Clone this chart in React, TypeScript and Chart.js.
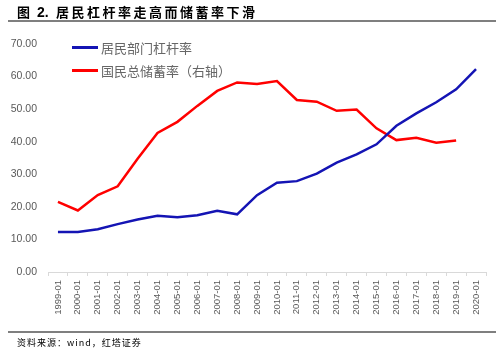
import React, { useEffect, useRef } from "react";
import { Chart, registerables } from "chart.js";

Chart.register(...registerables);

const categories = [
  "1999-01", "2000-01", "2001-01", "2002-01", "2003-01", "2004-01", "2005-01", "2006-01",
  "2007-01", "2008-01", "2009-01", "2010-01", "2011-01", "2012-01", "2013-01", "2014-01",
  "2015-01", "2016-01", "2017-01", "2018-01", "2019-01", "2020-01",
];

const householdLeverage = [
  12.3, 12.3, 13.1, 14.7, 16.1, 17.3, 16.8, 17.4, 18.8, 17.7, 23.6, 27.4,
  27.9, 30.2, 33.6, 36.1, 39.2, 44.9, 48.7, 52.1, 56.1, 62.3,
];

const nationalSavings: (number | null)[] = [
  21.5, 18.9, 23.6, 26.3, 34.8, 42.7, 46.1, 51.0, 55.6, 58.2, 57.7, 58.6,
  52.8, 52.3, 49.5, 49.9, 44.1, 40.5, 41.2, 39.7, 40.4, null,
];

const seriesNames = ["居民部门杠杆率", "国民总储蓄率（右轴）"];
const seriesColors = ["#1414B4", "#FF0000"];
const titleLabel = "图";
const titleNumber = "2.";
const titleText = "居民杠杆率走高而储蓄率下滑";
const sourceText = "资料来源：wind，红塔证券";

export default function App() {
  const canvasRef = useRef<HTMLCanvasElement | null>(null);

  useEffect(() => {
    const canvas = canvasRef.current;
    if (!canvas) return;
    const chart = new Chart(canvas, {
      type: "line",
      data: {
        labels: categories,
        datasets: [
          {
            label: seriesNames[0],
            data: householdLeverage,
            borderColor: seriesColors[0],
            backgroundColor: seriesColors[0],
            borderWidth: 2.5,
            pointRadius: 0,
            tension: 0,
            yAxisID: "y",
          },
          {
            label: seriesNames[1],
            data: nationalSavings,
            borderColor: seriesColors[1],
            backgroundColor: seriesColors[1],
            borderWidth: 2.5,
            pointRadius: 0,
            tension: 0,
            yAxisID: "y2",
          },
        ],
      },
      options: {
        animation: false,
        responsive: false,
        maintainAspectRatio: false,
        layout: { padding: { top: 44, left: 8, right: 14, bottom: 19 } },
        plugins: {
          legend: { display: false },
          tooltip: { enabled: false },
        },
        scales: {
          x: {
            offset: true,
            grid: {
              display: true,
              drawOnChartArea: false,
              drawTicks: true,
              tickLength: 4,
              color: "#d9d9d9",
              offset: true,
            },
            border: { display: true, color: "#d9d9d9" },
            ticks: {
              minRotation: 90,
              maxRotation: 90,
              autoSkip: false,
              color: "#595959",
              padding: 4,
              font: { family: "Liberation Sans", size: 9.5 },
            },
            afterFit: (s: any) => {
              s.height = 60;
            },
          },
          y: {
            min: 0,
            max: 70,
            grid: { display: false, drawTicks: false },
            border: { display: false },
            ticks: {
              stepSize: 10,
              color: "#595959",
              padding: 11,
              font: { family: "Liberation Sans", size: 10.5 },
              callback: (v: any) => Number(v).toFixed(2),
            },
            afterFit: (s: any) => {
              s.width = 40;
            },
          },
          y2: {
            display: false,
            min: 0,
            max: 70,
          },
        },
      },
    });
    return () => chart.destroy();
  }, []);

  const cjk = '"Noto Sans CJK SC", "Noto Sans", sans-serif';

  return (
    <div style={{ position: "absolute", left: 0, top: 0, width: 500, height: 351, background: "#fff", overflow: "hidden" }}>
      <canvas ref={canvasRef} width={500} height={351} style={{ position: "absolute", left: 0, top: 0, width: 500, height: 351 }} />
      <div
        style={{
          position: "absolute",
          left: 0,
          top: 3,
          width: 500,
          height: 18,
          fontFamily: cjk,
          fontWeight: 700,
          fontSize: 13,
          lineHeight: "18px",
          color: "#000",
          whiteSpace: "nowrap",
        }}
      >
        <span style={{ position: "absolute", left: 17, top: 0 }}>{titleLabel}</span>
        <span style={{ position: "absolute", left: 37, top: 0, fontFamily: "Liberation Sans", fontSize: 14 }}>{titleNumber}</span>
        <span style={{ position: "absolute", left: 56, top: 0, letterSpacing: 2.5 }}>{titleText}</span>
      </div>
      <div style={{ position: "absolute", left: 8, top: 20, width: 488, height: 1.5, background: "#7f7f7f" }} />
      <div style={{ position: "absolute", left: 72, top: 36 }}>
        {seriesNames.map((n, i) => (
          <div key={n} style={{ display: "flex", alignItems: "center", height: 23 }}>
            <div style={{ width: 26, height: 3, background: seriesColors[i], marginRight: 3 }} />
            <span style={{ fontFamily: cjk, fontSize: 13, color: "#666666", whiteSpace: "nowrap" }}>{n}</span>
          </div>
        ))}
      </div>
      <div style={{ position: "absolute", left: 8, top: 331, width: 488, height: 1.5, background: "#7f7f7f" }} />
      <div
        style={{
          position: "absolute",
          left: 17,
          top: 337,
          fontFamily: cjk,
          fontSize: 9,
          letterSpacing: 1,
          lineHeight: "12px",
          color: "#000",
          whiteSpace: "nowrap",
        }}
      >
        {sourceText}
      </div>
    </div>
  );
}
